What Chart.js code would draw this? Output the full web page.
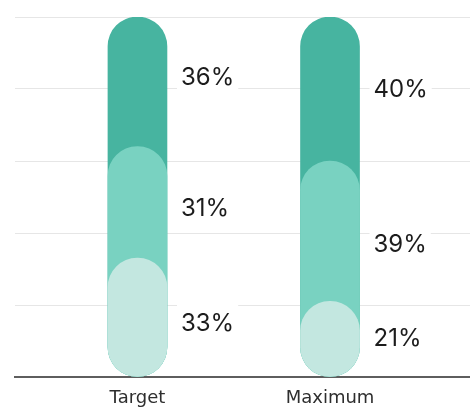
<!DOCTYPE html>
<html>
<head>
<meta charset="utf-8">
<script src="https://cdn.jsdelivr.net/npm/chart.js@4/dist/chart.umd.min.js"></script>
<style>
  html, body { margin: 0; padding: 0; background: #ffffff; }
  #wrap { width: 470px; height: 411px; position: relative; }
</style>
</head>
<body>
<div id="wrap"><canvas id="c" width="470" height="411"></canvas></div>
<script>
// ---- data ----
const categories = ['Target', 'Maximum'];
const seriesBottom = [33, 21];   // lightest segment
const seriesMiddle = [31, 39];   // medium segment
const seriesTop    = [36, 40];   // darkest segment
const yTicks = [0, 20, 40, 60, 80, 100];

// ---- styles ----
const colors = ['#c3e7e0', '#79d2c1', '#47b4a0'];
// label vertical nudges in px [bottom, middle, top] per category
const labelNudge = [[5, 5, -5], [-1, 13, 0]];

const segments = [seriesBottom, seriesMiddle, seriesTop];
// cumulative tops (overlapping bars drawn from 0)
const cumulative = segments.map((_, s) =>
  categories.map((_, i) => segments.slice(0, s + 1).reduce((a, arr) => a + arr[i], 0))
);

const datasets = segments.map((seg, s) => ({
  label: 'seg' + s,
  data: categories.map((_, i) => ({ x: i, y: cumulative[s][i] })),
  backgroundColor: colors[s],
  borderRadius: 40,
  borderSkipped: false,
  barThickness: 59,
  borderWidth: 0
}));

const labelPlugin = {
  id: 'segLabels',
  afterDatasetsDraw(chart) {
    const ctx = chart.ctx;
    const y = chart.scales.y;
    ctx.save();
    ctx.font = '24px Inter, "Noto Sans", sans-serif';
    ctx.textBaseline = 'middle';
    ctx.textAlign = 'left';
    categories.forEach((_, i) => {
      const bar = chart.getDatasetMeta(0).data[i];
      const xLeft = bar.x + bar.width / 2 + 14;
      segments.forEach((seg, s) => {
        const lower = s === 0 ? 0 : cumulative[s - 1][i];
        const upper = cumulative[s][i];
        const py = y.getPixelForValue((lower + upper) / 2) + labelNudge[i][s];
        const txt = seg[i] + '%';
        const w = ctx.measureText(txt).width;
        ctx.fillStyle = '#ffffff';
        ctx.fillRect(xLeft - 4, py - 20, w + 8, 40);
        ctx.fillStyle = '#1c1c1c';
        ctx.fillText(txt, xLeft, py + 1);
      });
    });
    ctx.restore();
  }
};

new Chart(document.getElementById('c'), {
  type: 'bar',
  data: { datasets },
  plugins: [labelPlugin],
  options: {
    responsive: false,
    animation: false,
    devicePixelRatio: 1,
    layout: { padding: { left: 15, right: 0, top: 17, bottom: -9.6 } },
    plugins: { legend: { display: false }, tooltip: { enabled: false } },
    scales: {
      x: {
        type: 'linear',
        stacked: true,
        offset: false,
        bounds: 'data',
        min: -0.636,
        max: 1.727,
        afterBuildTicks: (s) => { s.ticks = categories.map((_, i) => ({ value: i })); },
        ticks: {
          autoSkip: false,
          maxRotation: 0,
          padding: 11,
          color: '#2e2e2e',
          font: { family: '"DejaVu Sans", sans-serif', size: 18 },
          callback: (v) => categories[v]
        },
        grid: { display: false, drawTicks: false },
        border: { display: true, color: '#5e5e5e', width: 2 }
      },
      y: {
        stacked: false,
        min: 0,
        max: 100,
        afterBuildTicks: (s) => { s.ticks = yTicks.map(v => ({ value: v })); },
        ticks: { display: false },
        grid: { color: '#e6e6e6', lineWidth: 1, drawTicks: false },
        border: { display: false }
      }
    }
  }
});
</script>
</body>
</html>
